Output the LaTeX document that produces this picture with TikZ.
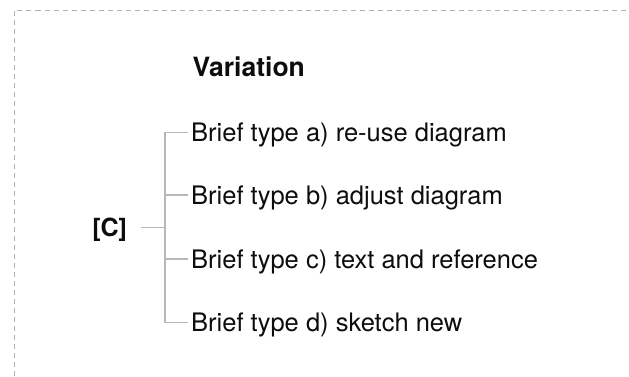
\documentclass[tikz,border=0pt]{standalone}
\usepackage{fontspec}
\setmainfont{TeX Gyre Heros}
\begin{document}
\begin{tikzpicture}[x=1pt,y=-1pt,
  frame/.style={draw=black!30, line width=1pt, dash pattern=on 5pt off 4pt},
  branch/.style={draw=black!28, line width=1.4pt},
  txt/.style={font=\fontsize{25.5}{30}\selectfont, text=black!95, text height=18pt, text depth=0pt, inner ysep=0pt},
  leaf/.style={txt, anchor=west, inner xsep=3pt},
  root/.style={txt, font=\fontsize{25}{30}\selectfont\bfseries, anchor=east, inner xsep=0pt, outer xsep=0pt},
  head/.style={font=\fontsize{26.5}{30}\selectfont\bfseries, text=black!95, anchor=base west, inner sep=0pt}]
\useasboundingbox (0,0) rectangle (629,376);
\draw[frame] (14,376) -- (14,10.5) -- (629,10.5);
\node[head] (title) at (192.5,76.5) {Variation};
\node[root] (croot) at (127,227.5) {[C]};
\coordinate (j) at (165,227.5);
\node[leaf] (a) at (188,132.5) {Brief type a) re-use diagram};
\node[leaf] (b) at (188,195) {Brief type b) adjust diagram};
\node[leaf] (c) at (188,259) {Brief type c) text and reference};
\node[leaf] (d) at (188,322.5) {Brief type d) sketch new};
\draw[branch] ([xshift=14pt]croot.east) -- (j);
\draw[branch] (a.west) -- (a.west -| j) -- (d.west -| j) -- (d.west);
\draw[branch] (b.west) -- (b.west -| j);
\draw[branch] (c.west) -- (c.west -| j);
\end{tikzpicture}
\end{document}
